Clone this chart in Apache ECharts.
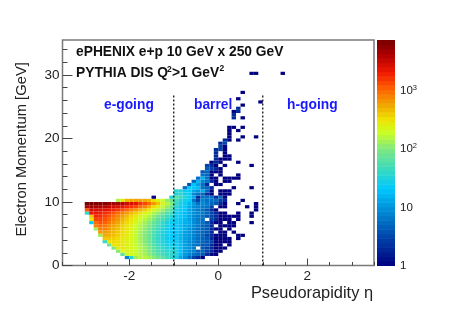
<!DOCTYPE html>
<html>
<head>
<meta charset="utf-8">
<style>html,body{margin:0;padding:0;background:#fff}#c{width:449px;height:311px}</style>
<script src="https://cdn.jsdelivr.net/npm/echarts@6/dist/echarts.min.js"></script>
</head>
<body>
<div id="c"></div>
<script>
// Histogram binning
const etaFirstEdge = -3.0, etaBin = 0.1, pBin = 0.5;
const etaMidCol = 20; // column whose lower edge is eta = -1
// Momentum (lower bin edge) of each row
const pRows = [1,1.5,2,2.5,3,3.5,4,4.5,5,5.5,6,6.5,7,7.5,8,8.5,9,9.5,10,10.5,11,11.5,12,12.5,13,13.5,14,14.5,15,15.5,16,16.5,17,17.5,18,18.5,19,19.5,20,20.5,21,21.5,23,23.5,24,24.5,25,25.5,26,27,30];
// Counts left of eta = -1, right-aligned to the last column before it
const countsLeft = [
 [8,35,130,170,160,140,110,85,65,50,38],
 [70,190,210,190,170,140,110,85,65,50,42,38],
 [110,230,240,220,190,160,130,100,75,55,44,38,38],
 [90,280,290,260,230,200,160,125,95,70,52,40,32,30],
 [80,330,330,300,260,220,185,150,115,85,62,46,35,28,26],
 [45,340,360,340,300,260,220,180,140,105,78,56,42,32,26,24],
 [420,420,400,350,300,260,220,180,140,105,80,58,42,32,25,22],
 [130,560,530,470,400,340,280,230,180,140,105,78,56,42,30,25,22],
 [650,640,580,500,420,350,290,230,180,135,105,80,58,42,32,25,21],
 [130,850,800,680,560,460,370,300,240,190,150,115,85,62,46,33,27,20],
 [800,1000,880,720,600,490,390,310,250,200,160,125,95,72,52,38,28,22],
 [24,1000,1300,1150,900,730,580,450,360,280,220,175,135,105,78,60,42,30,25],
 [320,1500,1500,1300,1050,850,680,520,400,310,245,200,160,130,100,70,55,40,28],
 [420,1900,1800,1500,1250,1000,800,620,480,370,290,235,190,150,120,85,65,45,35],
 [40,2300,2300,2100,1800,1550,1300,1000,800,620,500,400,300,240,190,150,120,85,60,45],
 [1200,3000,2900,2700,2400,2200,1900,1600,1300,1000,800,650,500,400,280,220,170,130,85,60],
 [4500,5000,4500,4000,3800,3300,3000,2700,2300,1900,1700,1400,1000,800,550,350,260,180,120,80],
 [7500,7500,7000,7000,6500,5500,5000,4500,4000,3000,2800,2500,1700,1400,1100,700,450,240,160,110],
 [150,300,500,600,600,600,550,500,350,250,200,120,80],
 [1,0,0,0,35]
];
// Counts from eta = -1 rightwards
const countsRight = [
 [30,14,9,5,3,2,1],
 [34,18,11,8,6,5,4,2,1,1],
 [32,20,12,9,8,5,5,3,2,1,1],
 [28,18,12,10,7,0,4,3,2,1,1,1],
 [26,18,12,9,7,6,4,4,2,1,1,0,1],
 [24,17,12,9,8,6,5,4,3,1,1,1,1],
 [22,16,12,10,8,6,5,4,2,1,1,1,1,0,1],
 [20,16,12,10,8,6,5,3,2,1,1,1,0,0,1,1],
 [20,17,12,10,8,6,5,4,2,0,1,1,0,1],
 [22,18,14,10,8,6,5,4,2,1,1,0,1],
 [22,18,14,12,9,7,5,4,2,0,1,1,1,1],
 [24,19,15,13,9,7,6,4,2,1,1,0,1,1,0,0,0,1],
 [24,20,16,12,9,7,6,0,3,2,1,1,1,0,1],
 [26,22,18,12,9,7,6,4,3,2,1,1,1,1,1,0,0,1],
 [28,22,17,13,10,8,7,5,3,2,1,1,0,0,1,0,0,1],
 [30,24,20,12,10,7,6,4,2,1,0,0,0,0,0,0,0,0,1],
 [36,26,22,14,9,8,7,6,3,0,1,1,0,0,0,0,1,0,1],
 [44,30,24,16,11,6,9,7,5,4,2,1,0,0,1,0,0,0,1],
 [55,34,27,22,6,3,8,6,6,6,3,2,0,0,0,1],
 [65,48,32,24,13,2,6,6,6,2,5,1],
 [32,37,27,24,9,6,5,2,1,0,1,1,1],
 [36,32,24,22,13,10,14,5,1,0,1,1,1],
 [0,0,6,22,22,18,6,5,2,0,0,0,0,1,0,0,0,1],
 [0,0,0,4,20,12,6,2,0,1,1],
 [0,0,0,0,5,16,8,6,2,1,0,1,1],
 [0,0,0,0,0,6,15,6,1,1,0,1,1,1,1],
 [0,0,0,0,0,0,6,5,1,0,1,0,0,0,1],
 [0,0,0,0,0,0,4,5,1,1,1],
 [0,0,0,0,0,0,0,4,3,2,1],
 [0,0,0,0,0,0,0,3,2,1,0,1,0,0,0,0,0,1],
 [0,0,0,0,0,0,0,0,1,2,1,0,0,0,1],
 [0,0,0,0,0,0,0,0,0,2,1,1,1],
 [0,0,0,0,0,0,0,0,0,2,0,1,1],
 [0,0,0,0,0,0,0,0,0,2,0,1],
 [0,0,0,0,0,0,0,0,0,2,3,1],
 [0,0,0,0,0,0,0,0,0,0,3,1],
 [0,0,0,0,0,0,0,0,0,0,2,3],
 [0,0,0,0,0,0,0,0,0,0,0,2,1,0,1],
 [0,0,0,0,0,0,0,0,0,0,0,0,1,0,0,1,0,0,1],
 [0,0,0,0,0,0,0,0,0,0,0,0,1],
 [0,0,0,0,0,0,0,0,0,0,0,0,1,0,1],
 [0,0,0,0,0,0,0,0,0,0,0,0,1,1,0,1],
 [0,0,0,0,0,0,0,0,0,0,0,0,0,2,0,1],
 [0,0,0,0,0,0,0,0,0,0,0,0,0,2],
 [0,0,0,0,0,0,0,0,0,0,0,0,0,1,2],
 [0,0,0,0,0,0,0,0,0,0,0,0,0,0,2],
 [0,0,0,0,0,0,0,0,0,0,0,0,0,0,0,1],
 [0,0,0,0,0,0,0,0,0,0,0,0,0,0,0,0,0,0,0,1],
 [0,0,0,0,0,0,0,0,0,0,0,0,0,0,1],
 [0,0,0,0,0,0,0,0,0,0,0,0,0,0,0,1],
 [0,0,0,0,0,0,0,0,0,0,0,0,0,0,0,0,0,1,1,0,0,0,0,0,1]
];
// Axis ticks and labels
const xMajor = [-2,0,2];
const xMinor = [-3.5,-3,-2.5,-1.5,-1,-0.5,0.5,1,1.5,2.5,3,3.5];
const yMajor = [0,10,20,30];
const yMinor = [2,4,6,8,12,14,16,18,22,24,26,28,32,34];
const zMajor = [1,10,100,1000];
const zMinor = [2,3,4,5,6,7,8,9,20,30,40,50,60,70,80,90,200,300,400,500,600,700,800,900,2000,3000,4000,5000,6000,7000];
const zLabels = {0:'{n|1}',1:'{n|10}',2:'{n|10}{s|2}',3:'{n|10}{s|3}'};
const zLogMax = 3.88;
// Region markers
const etaLines = [-1,1];
const etaLineTop = 26.8;
// Palette stops: log10(count) -> colour
const palLog = [0,0.46,0.98,1.32,1.61,2.01,2.30,2.53,2.76,3.05,3.33,3.62,3.88];
const palCol = ['#000080','#0040a8','#0090d8','#00c8ff','#30d8c8','#80e880','#ccff20','#f0e000','#f0a800','#ff6000','#f01800','#b00000','#780000'];

function hex(s){return [1,3,5].map(i=>parseInt(s.substr(i,2),16));}
function colorAt(l){
  for(let i=1;i<palLog.length;i++){
    if(l<=palLog[i]){
      const t=(l-palLog[i-1])/(palLog[i]-palLog[i-1]);
      const a=hex(palCol[i-1]),b=hex(palCol[i]);
      return 'rgb('+a.map((v,k)=>Math.round(v+(b[k]-v)*t)).join(',')+')';
    }
  }
  return palCol[palCol.length-1];
}
const cells=[];
pRows.forEach((p,r)=>{
  const L=countsLeft[r]||[],R=countsRight[r]||[];
  L.forEach((v,i)=>{ if(v>0) cells.push([etaFirstEdge+etaBin*(etaMidCol-L.length+i),p,v]); });
  R.forEach((v,i)=>{ if(v>0) cells.push([etaFirstEdge+etaBin*(etaMidCol+i),p,v]); });
});
const barCells=[];
for(let i=0;i<50;i++){ barCells.push([zLogMax*i/50,zLogMax*(i+1)/50]); }

const tickBase={show:true,inside:true,lineStyle:{color:'#444',width:1}};
function axisCommon(){return {axisLine:{show:false,onZero:false},splitLine:{show:false}};}
const labelStyle={color:'#222',fontFamily:'Liberation Sans',fontSize:13.5};
const txt=(x,y,t,o)=>({type:'text',x,y,z:100,style:Object.assign({text:t,fontFamily:'Liberation Sans',fontSize:13.8,fontWeight:'bold',fill:'#111',verticalAlign:'middle'},o||{})});

const chart=echarts.init(document.getElementById('c'),null,{renderer:'canvas'});
chart.setOption({
  animation:false,
  grid:[
    {left:62.5,top:40,width:311.5,height:225.5,show:true,borderColor:'#7a7a7a',borderWidth:1.5,backgroundColor:'transparent'},
    {left:377,top:40,width:18,height:225.5,show:false}
  ],
  xAxis:[
    Object.assign(axisCommon(),{type:'value',gridIndex:0,min:-3.5,max:3.5,position:'bottom',
      axisTick:Object.assign({},tickBase,{length:7,customValues:xMajor}),
      axisLabel:Object.assign({},labelStyle,{margin:4,customValues:xMajor})}),
    Object.assign(axisCommon(),{type:'value',gridIndex:0,min:-3.5,max:3.5,position:'bottom',
      axisTick:Object.assign({},tickBase,{length:3.5,customValues:xMinor}),axisLabel:{show:false}}),
    Object.assign(axisCommon(),{type:'value',gridIndex:1,min:0,max:1,show:false})
  ],
  yAxis:[
    Object.assign(axisCommon(),{type:'value',gridIndex:0,min:0,max:35.5,position:'left',
      name:'Electron Momentum [GeV]',nameLocation:'middle',nameGap:33,
      nameTextStyle:{color:'#222',fontFamily:'Liberation Sans',fontSize:14.8,padding:[0,0,0,7]},
      axisTick:Object.assign({},tickBase,{length:10,customValues:yMajor}),
      axisLabel:Object.assign({},labelStyle,{margin:3,customValues:yMajor})}),
    Object.assign(axisCommon(),{type:'value',gridIndex:0,min:0,max:35.5,position:'left',
      axisTick:Object.assign({},tickBase,{length:5,customValues:yMinor}),axisLabel:{show:false}}),
    Object.assign(axisCommon(),{type:'value',gridIndex:1,min:0,max:zLogMax,position:'right',
      axisTick:Object.assign({},tickBase,{length:9.5,customValues:zMajor.map(Math.log10)}),
      axisLabel:{margin:5,customValues:zMajor.map(Math.log10),color:'#222',fontFamily:'Liberation Sans',
        formatter:v=>zLabels[Math.round(v)],
        rich:{n:{fontSize:11.5,color:'#222',fontFamily:'Liberation Sans'},s:{fontSize:7.5,color:'#222',fontFamily:'Liberation Sans',verticalAlign:'top',padding:[0,0,7,0]}}}}),
    Object.assign(axisCommon(),{type:'value',gridIndex:1,min:0,max:zLogMax,position:'right',
      axisTick:Object.assign({},tickBase,{length:4.5,customValues:zMinor.map(Math.log10)}),axisLabel:{show:false}})
  ],
  series:[
    {type:'custom',xAxisIndex:0,yAxisIndex:0,coordinateSystem:'cartesian2d',silent:true,data:cells,encode:{x:0,y:1},
      renderItem:(params,api)=>{
        const x=api.value(0),y=api.value(1);
        const a=api.coord([x,y+pBin]),b=api.coord([x+etaBin,y]);
        return {type:'rect',shape:{x:a[0],y:a[1],width:b[0]-a[0],height:b[1]-a[1]},style:{fill:colorAt(Math.log10(api.value(2)))}};
      }},
    {type:'custom',xAxisIndex:2,yAxisIndex:2,coordinateSystem:'cartesian2d',silent:true,data:barCells,encode:{y:[0,1]},z:1,
      renderItem:(params,api)=>{
        const lo=api.value(0),hi=api.value(1);
        const a=api.coord([0,hi]),b=api.coord([1,lo]);
        return {type:'rect',shape:{x:a[0],y:a[1],width:b[0]-a[0],height:b[1]-a[1]+0.5},style:{fill:colorAt((lo+hi)/2)}};
      }},
    ...etaLines.map(e=>({type:'line',xAxisIndex:0,yAxisIndex:0,silent:true,symbol:'none',z:5,data:[[e,0],[e,etaLineTop]],lineStyle:{color:'#111',width:1.3,type:[2,2]}}))
  ],
  graphic:[
    txt(76,52,'ePHENIX e+p 10 GeV x 250 GeV'),
    txt(76,73,'PYTHIA DIS Q'),
    txt(167,69.5,'2',{fontSize:8.5}),
    txt(172,73,'>1 GeV'),
    txt(219.5,69,'2',{fontSize:8.5}),
    txt(104,105,'e-going',{fill:'#1a1aff'}),
    txt(194,105,'barrel',{fill:'#1a1aff'}),
    txt(287,105,'h-going',{fill:'#1a1aff'}),
    txt(373,293,'Pseudorapidity η',{fontSize:16.4,fontWeight:'normal',fill:'#222',align:'right'})
  ]
});
</script>
</body>
</html>
